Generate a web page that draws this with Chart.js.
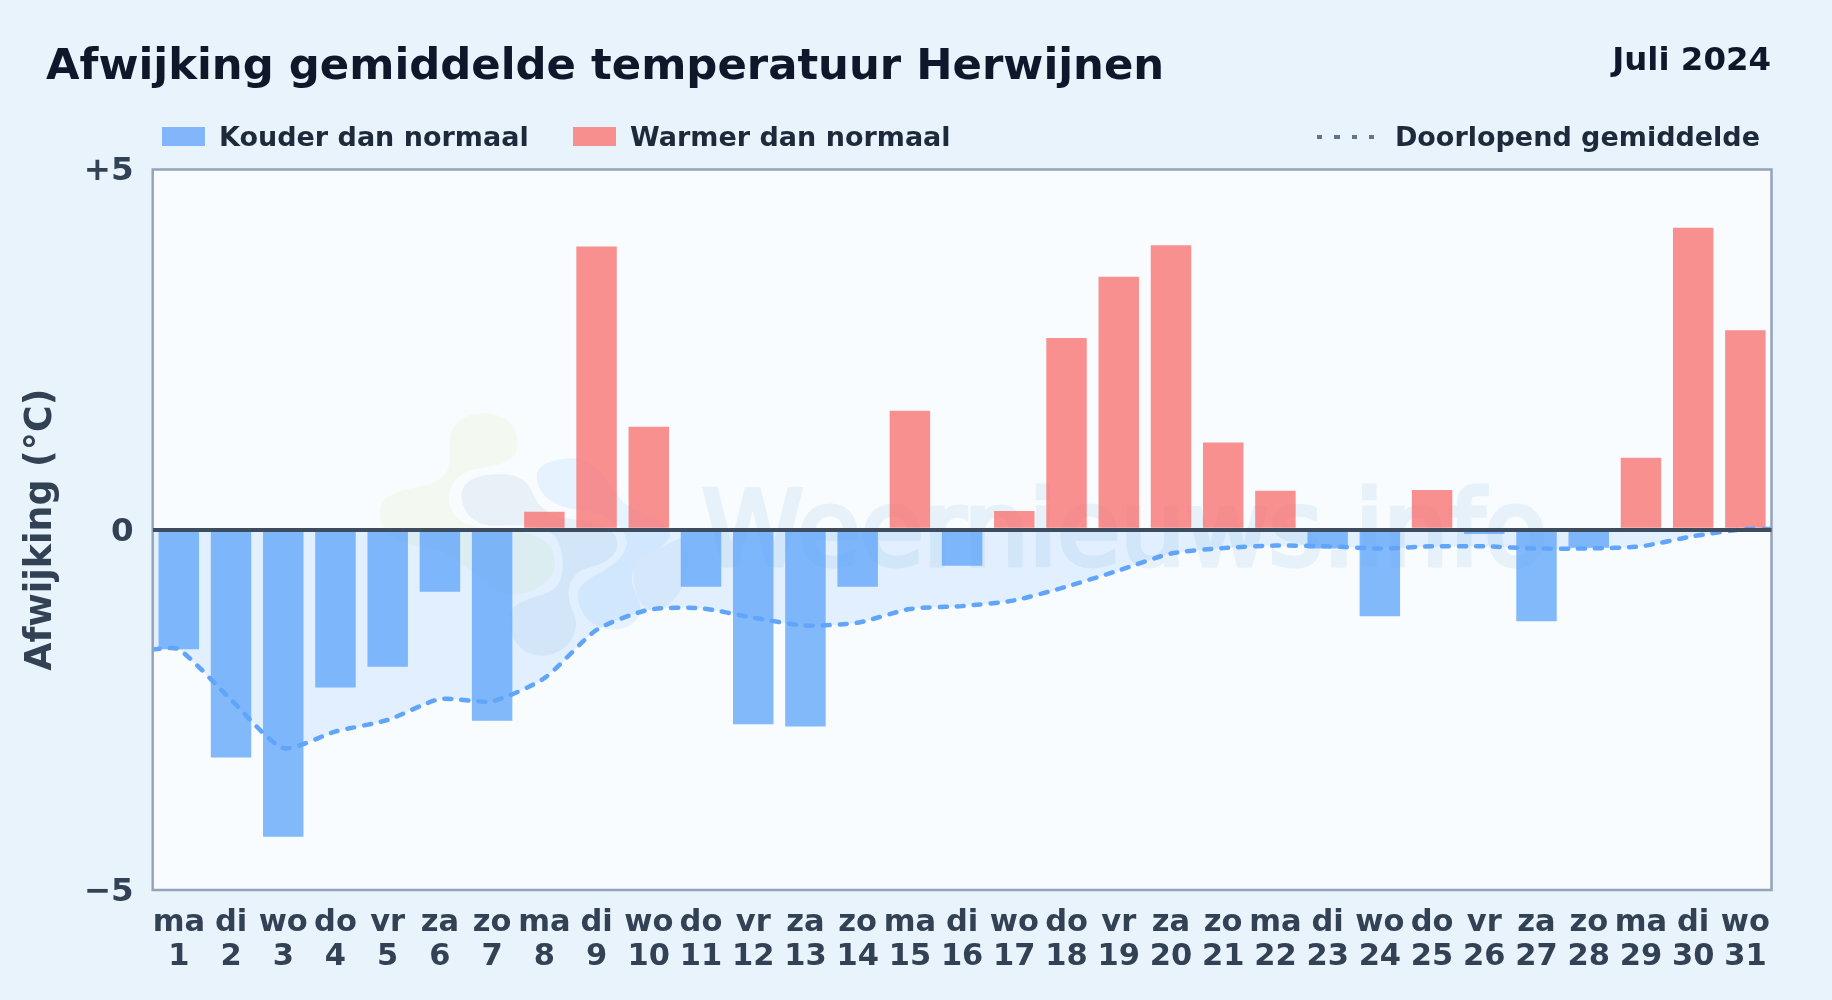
<!DOCTYPE html>
<html lang="nl">
<head>
<meta charset="utf-8">
<title>Afwijking gemiddelde temperatuur Herwijnen</title>
<script src="https://cdn.jsdelivr.net/npm/chart.js@4/dist/chart.umd.min.js"></script>
<style>
  html, body { margin: 0; padding: 0; background: #e8f3fc; }
  body { width: 1832px; height: 1000px; position: relative; overflow: hidden; font-family: "DejaVu Sans", sans-serif; font-weight: bold; }
  #myChart { position: absolute; left: 0; top: 0; }
  .txt { position: absolute; white-space: nowrap; line-height: 1; }
  #title { left: 46px; top: 43px; font-size: 43.35px; color: #0f172a; }
  #period { right: 61px; top: 43px; font-size: 32.4px; color: #0f172a; }
  .leg { top: 123px; font-size: 27px; color: #1e293b; }
  .swatch { position: absolute; top: 127px; height: 19px; width: 43px; }
  #dots { position: absolute; left: 1317px; top: 135px; width: 57px; height: 4px;
          background: repeating-linear-gradient(90deg, #64748b 0 5px, transparent 5px 17.5px); }
</style>
</head>
<body>
<canvas id="myChart" width="1832" height="1000"></canvas>
<div class="txt" id="title">Afwijking gemiddelde temperatuur Herwijnen</div>
<div class="txt" id="period">Juli 2024</div>
<div class="swatch" style="left:162px;background:#81b6fb"></div>
<div class="txt leg" style="left:219px">Kouder dan normaal</div>
<div class="swatch" style="left:573px;background:#f88f8f"></div>
<div class="txt leg" style="left:630px">Warmer dan normaal</div>
<div id="dots"></div>
<div class="txt leg" style="right:72px">Doorlopend gemiddelde</div>
<script>
const dayNames = ['ma','di','wo','do','vr','za','zo','ma','di','wo','do','vr','za','zo','ma','di','wo','do','vr','za','zo','ma','di','wo','do','vr','za','zo','ma','di','wo'];
const dayNumbers = ['1','2','3','4','5','6','7','8','9','10','11','12','13','14','15','16','17','18','19','20','21','22','23','24','25','26','27','28','29','30','31'];
const deviations = [-1.66,-3.16,-4.26,-2.19,-1.90,-0.86,-2.65,0.25,3.93,1.43,-0.79,-2.70,-2.73,-0.79,1.65,-0.50,0.26,2.66,3.51,3.95,1.21,0.54,-0.26,-1.20,0.55,-0.06,-1.27,-0.25,1.00,4.19,2.77];
const runningMean = [-1.66,-2.36,-3.03,-2.80,-2.64,-2.35,-2.38,-2.06,-1.39,-1.11,-1.09,-1.22,-1.33,-1.29,-1.10,-1.06,-0.98,-0.79,-0.565,-0.33,-0.255,-0.22,-0.23,-0.26,-0.23,-0.23,-0.26,-0.26,-0.23,-0.09,0.01];
const yTicks = { '5': '+5', '0': '0', '-5': '\u22125' };

const coldColor = 'rgba(96,165,250,0.78)';
const warmColor = 'rgba(248,113,113,0.78)';

// running mean runs from the left frame to the right frame
const lineDays = [0.5, ...dayNumbers.map(Number), 31.5];
const lineValues = [runningMean[0], ...runningMean, runningMean[runningMean.length - 1]];

function blob(ctx, color, start, curves) {
  ctx.fillStyle = color;
  ctx.beginPath();
  ctx.moveTo(start[0], start[1]);
  curves.forEach(c => ctx.bezierCurveTo(c[0], c[1], c[2], c[3], c[4], c[5]));
  ctx.closePath();
  ctx.fill();
}

const plotBackground = {
  id: 'plotBackground',
  beforeDraw(chart) {
    const { ctx, chartArea: a } = chart;
    ctx.save();
    ctx.fillStyle = '#f8fcff';
    ctx.fillRect(a.left, a.top, a.width, a.height);

    // watermark
    ctx.fillStyle = '#e7f1f9';
    ctx.strokeStyle = '#e7f1f9';
    ctx.lineWidth = 5;
    ctx.font = '102.5px "DejaVu Sans"';
    ctx.fillText('Weernieuws.info', 702, 565);
    ctx.strokeText('Weernieuws.info', 702, 565);

    ctx.translate(360, 395);
    ctx.scale(1 / 3, 1 / 3);
    blob(ctx, '#f3f9f0', [60, 350], [
      [60, 300, 120, 285, 200, 270], [260, 255, 275, 220, 270, 160], [262, 100, 300, 55, 370, 55],
      [440, 55, 475, 100, 472, 150], [470, 195, 430, 210, 370, 218], [300, 228, 265, 260, 268, 320],
      [270, 370, 320, 400, 420, 405], [520, 410, 580, 430, 585, 500], [585, 560, 520, 595, 460, 600],
      [400, 600, 340, 520, 250, 470], [180, 450, 60, 450, 60, 350]
    ]);
    blob(ctx, '#e8f0f8', [305, 300], [
      [305, 250, 370, 235, 430, 238], [490, 240, 510, 270, 525, 310], [545, 350, 590, 370, 660, 375],
      [730, 380, 775, 410, 772, 450], [770, 490, 720, 510, 680, 520], [630, 535, 610, 590, 640, 650],
      [670, 720, 610, 785, 540, 782], [480, 780, 440, 720, 450, 660], [455, 620, 520, 610, 570, 590],
      [620, 570, 615, 480, 590, 430], [560, 385, 470, 390, 400, 392], [340, 390, 305, 350, 305, 300]
    ]);
    blob(ctx, '#e6f3fe', [530, 245], [
      [530, 205, 590, 190, 640, 190], [720, 190, 760, 300, 800, 330], [850, 360, 930, 380, 930, 420],
      [925, 460, 820, 490, 815, 550], [815, 590, 850, 620, 840, 650], [830, 700, 770, 710, 730, 700],
      [670, 680, 650, 630, 655, 590], [665, 540, 780, 530, 800, 450], [805, 400, 740, 350, 660, 345],
      [590, 340, 530, 300, 530, 245]
    ]);
    blob(ctx, '#eaf3fc', [820, 540], [
      [820, 490, 900, 460, 960, 430], [1000, 450, 1000, 620, 880, 650], [840, 640, 820, 590, 820, 540]
    ]);
    ctx.restore();
  },
  afterDatasetsDraw(chart) {
    const { ctx, chartArea: a } = chart;
    ctx.save();
    ctx.strokeStyle = '#94a3b8';
    ctx.lineWidth = 2.5;
    ctx.strokeRect(a.left, a.top, a.width, a.height);
    ctx.restore();
  }
};

const ctx = document.getElementById('myChart').getContext('2d');
const myChart = new Chart(ctx, {
  type: 'bar',
  data: {
    labels: dayNames.map((name, i) => [name, dayNumbers[i]]),
    datasets: [
      {
        type: 'line',
        label: 'Doorlopend gemiddelde',
        data: lineDays.map((day, i) => ({ x: day, y: lineValues[i] })),
        xAxisID: 'xDay',
        order: 0,
        borderColor: '#60a5fa',
        borderWidth: 4.5,
        borderDash: [7, 10],
        borderCapStyle: 'round',
        tension: 0.22,
        pointRadius: 0,
        fill: { target: 'origin', below: 'rgba(96,165,250,0.15)', above: 'rgba(0,0,0,0)' }
      },
      {
        label: 'Afwijking',
        data: deviations,
        order: 1,
        grouped: false,
        backgroundColor: deviations.map(v => (v < 0 ? coldColor : warmColor)),
        barPercentage: 0.775,
        categoryPercentage: 1
      }
    ]
  },
  options: {
    responsive: false,
    animation: false,
    devicePixelRatio: 1,
    layout: { padding: { top: 169.5, right: 60.5, bottom: 0, left: 0 } },
    plugins: {
      legend: { display: false },
      title: { display: false },
      tooltip: { enabled: false },
      filler: { drawTime: 'beforeDatasetsDraw' }
    },
    scales: {
      x: {
        grid: { display: false },
        border: { display: false },
        ticks: {
          autoSkip: false,
          maxRotation: 0,
          padding: 8,
          color: '#334155',
          font: { family: '"DejaVu Sans"', size: 30.5, weight: 'bold', lineHeight: 1.12 }
        },
        afterFit(scale) { scale.height = 110; }
      },
      xDay: { type: 'linear', display: false, offset: false, min: 0.5, max: 31.5 },
      y: {
        min: -5,
        max: 5,
        grid: {
          z: 1,
          drawTicks: false,
          lineWidth: c => (c.tick.value === 0 ? 4 : 0),
          color: '#3e4c60'
        },
        border: { display: false },
        ticks: {
          stepSize: 5,
          padding: 19,
          color: '#334155',
          // empty first line + 5px line height nudges the label 2.5px down
          font: { family: '"DejaVu Sans"', size: 32.5, weight: 'bold', lineHeight: '5px' },
          callback: value => ['', yTicks[value]]
        },
        title: {
          display: true,
          text: 'Afwijking (\u00b0C)',
          color: '#334155',
          padding: { top: 20, bottom: 0 },
          font: { family: '"DejaVu Sans"', size: 36.4, weight: 'bold' }
        },
        afterFit(scale) { scale.width = 152.7; }
      }
    }
  },
  plugins: [plotBackground]
});
</script>
</body>
</html>
